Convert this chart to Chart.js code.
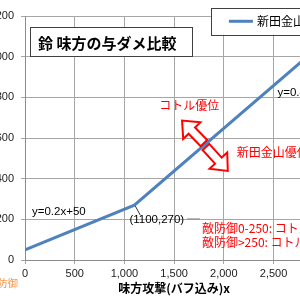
<!DOCTYPE html>
<html>
<head>
<meta charset="utf-8">
<script src="https://cdn.jsdelivr.net/npm/chart.js@4"></script>
<style>
html,body{margin:0;padding:0;overflow:hidden;background:#fff;width:300px;height:300px;}
canvas{display:block;}
</style>
</head>
<body>
<canvas id="c" width="340" height="300"></canvas>
<script>
// ---- data ----
const seriesName = '新田金山';
const attackX = [0, 1100, 3000];
const damageY = [50, 270, 1068];
const xTicks = [0, 500, 1000, 1500, 2000, 2500, 3000];
const yTicks = [0, 200, 400, 600, 800, 1000, 1200];
const chartTitle = '鈴 味方の与ダメ比較';
const xTitle = '味方攻撃(バフ込み)x';

// annotations (data coordinates)
const redLabels = [
  {text: 'コトル優位', x: 1350, y: 762},
  {text: '新田金山優位', x: 2130, y: 531},
  {text: '敵防御0-250: コトル優位', x: 1780, y: 157},
  {text: '敵防御>250: コトル劣位', x: 1780, y: 84}
];
const blackLabels = [
  {text: 'y=0.2x+50', x: 70, y: 236},
  {text: '(1100,270)', x: 1050, y: 197},
  {text: 'y=0.42x-192', x: 2540, y: 823}
];
const arrows = [
  {x1: 1800, y1: 575, x2: 1580, y2: 686},
  {x1: 1820, y1: 556, x2: 2040, y2: 438}
];

const points = attackX.map((x, i) => ({x: x, y: damageY[i]}));
const FONT = "'Liberation Sans', 'Noto Sans CJK JP', sans-serif";
const JP = "'Noto Sans CJK JP', sans-serif";

function drawArrow(ctx, x1, y1, x2, y2) {
  const dx = x2 - x1, dy = y2 - y1;
  const L = Math.hypot(dx, dy);
  const ux = dx / L, uy = dy / L;
  const nx = -uy, ny = ux;
  const w = 4.5, hw = 12, hl = 14;
  const bx = x2 - ux * hl, by = y2 - uy * hl;
  const pts = [
    [x1 + nx * w, y1 + ny * w],
    [bx + nx * w, by + ny * w],
    [bx + nx * hw, by + ny * hw],
    [x2, y2],
    [bx - nx * hw, by - ny * hw],
    [bx - nx * w, by - ny * w],
    [x1 - nx * w, y1 - ny * w]
  ];
  ctx.beginPath();
  pts.forEach((p, i) => i ? ctx.lineTo(p[0], p[1]) : ctx.moveTo(p[0], p[1]));
  ctx.closePath();
  ctx.fillStyle = '#ffffff';
  ctx.fill();
  ctx.lineWidth = 2;
  ctx.strokeStyle = '#ff0000';
  ctx.lineJoin = 'miter';
  ctx.stroke();
}

const annot = {
  id: 'annot',
  afterDatasetsDraw(chart) {
    const ctx = chart.ctx;
    const xs = chart.scales.x, ys = chart.scales.y;
    const px = v => xs.getPixelForValue(v);
    const py = v => ys.getPixelForValue(v);
    ctx.save();
    ctx.textBaseline = 'middle';
    ctx.textAlign = 'left';

    // leader lines for kink label
    ctx.strokeStyle = '#333';
    ctx.lineWidth = 1;
    ctx.beginPath();
    ctx.moveTo(px(1100) + 1, py(270) + 1);
    ctx.lineTo(px(1160), py(220));
    ctx.stroke();
    ctx.strokeStyle = '#888';
    ctx.beginPath();
    ctx.moveTo(px(1630), py(202));
    ctx.lineTo(px(1760), py(202));
    ctx.stroke();

    // black labels
    ctx.fillStyle = '#000';
    ctx.font = '11.5px ' + FONT;
    blackLabels.forEach(l => ctx.fillText(l.text, px(l.x), py(l.y)));

    // arrows
    arrows.forEach(a => drawArrow(ctx, px(a.x1), py(a.y1), px(a.x2), py(a.y2)));

    // red labels
    ctx.fillStyle = '#ff0000';
    ctx.font = '12px ' + JP;
    redLabels.forEach(l => ctx.fillText(l.text, px(l.x), py(l.y)));

    // orange cut label bottom-left
    ctx.fillStyle = '#f79646';
    ctx.font = '10.5px ' + JP;
    ctx.textAlign = 'right';
    ctx.fillText('敵防御', 18, 283);
    ctx.textAlign = 'left';

    // title box
    const tL = px(50), tT = py(1145), tR = px(1680), tB = py(1000);
    ctx.fillStyle = '#fff';
    ctx.fillRect(tL, tT, tR - tL, tB - tT);
    ctx.strokeStyle = '#404040';
    ctx.lineWidth = 1;
    ctx.strokeRect(Math.round(tL) + 0.5, Math.round(tT) + 0.5, Math.round(tR - tL), Math.round(tB - tT));
    ctx.fillStyle = '#000';
    ctx.font = 'bold 15px ' + JP;
    ctx.fillText(chartTitle, tL + 8, (tT + tB) / 2 + 1);

    // legend box
    const lL = px(1870), lT = py(1240), lR = px(3300), lB = py(1108);
    ctx.fillStyle = '#fff';
    ctx.fillRect(lL, lT, lR - lL, lB - lT);
    ctx.strokeStyle = '#404040';
    ctx.strokeRect(Math.round(lL) + 0.5, Math.round(lT) + 0.5, Math.round(lR - lL), Math.round(lB - lT));
    const ly = (lT + lB) / 2;
    ctx.strokeStyle = '#4f81bd';
    ctx.lineWidth = 3;
    ctx.beginPath();
    ctx.moveTo(lL + 18, ly);
    ctx.lineTo(lL + 42, ly);
    ctx.stroke();
    ctx.fillStyle = '#000';
    ctx.font = '12px ' + JP;
    ctx.fillText(chart.data.datasets[0].label, lL + 46, ly);
    ctx.restore();
  }
};

new Chart(document.getElementById('c'), {
  type: 'line',
  data: {
    datasets: [{
      label: seriesName,
      data: points,
      borderColor: '#4f81bd',
      borderWidth: 3,
      pointRadius: 0,
      tension: 0,
      fill: false
    }]
  },
  options: {
    responsive: false,
    animation: false,
    devicePixelRatio: 1,
    layout: {padding: {top: 16, right: 15, left: 0, bottom: 0}},
    plugins: {legend: {display: false}, tooltip: {enabled: false}},
    scales: {
      x: {
        type: 'linear',
        min: xTicks[0],
        max: xTicks[xTicks.length - 1],
        afterBuildTicks: s => { s.ticks = xTicks.map(v => ({value: v})); },
        afterFit: s => { s.height = 40; },
        ticks: {padding: 3, color: '#222', font: {family: FONT, size: 11}, maxRotation: 0, autoSkip: false},
        grid: {color: '#a6a6a6', tickLength: 4, lineWidth: 1},
        border: {color: '#8c8c8c'},
        title: {display: true, text: xTitle, color: '#000', font: {family: JP, size: 12, weight: 'bold'}, padding: {top: 0, bottom: 4}}
      },
      y: {
        type: 'linear',
        min: yTicks[0],
        max: yTicks[yTicks.length - 1],
        afterBuildTicks: s => { s.ticks = yTicks.map(v => ({value: v})); },
        afterFit: s => { s.width = 25; },
        ticks: {padding: 7, color: '#222', font: {family: FONT, size: 11}},
        grid: {color: '#a6a6a6', tickLength: 4, lineWidth: 1},
        border: {color: '#8c8c8c'}
      }
    }
  },
  plugins: [annot]
});
</script>
</body>
</html>
